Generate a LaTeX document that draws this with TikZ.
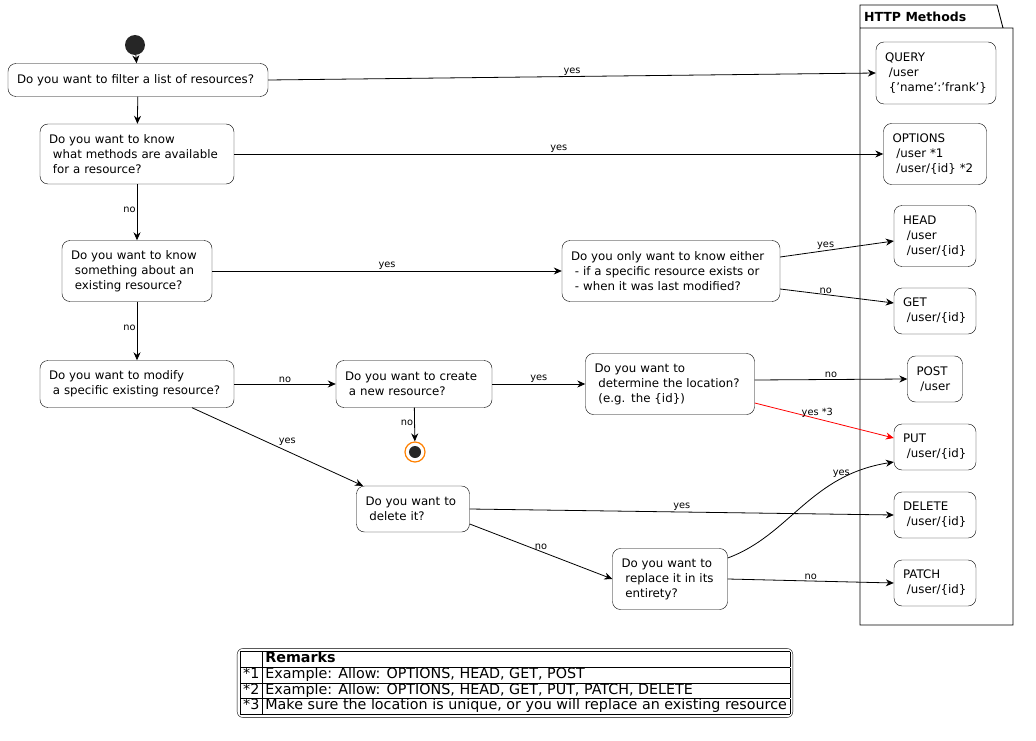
\documentclass[tikz,border=0pt]{standalone}
\usepackage{fontspec}
\setmainfont{DejaVu Sans}
\usetikzlibrary{arrows.meta}
\begin{document}
\begin{tikzpicture}[x=1pt,y=-1pt,
 box/.style={draw,rounded corners=8pt,font=\fontsize{11.8}{15}\selectfont,align=left,inner xsep=9pt,inner ysep=0pt},
 arr/.style={-{Stealth[length=8pt,width=7pt]},line width=0.8pt},
 lab/.style={font=\fontsize{9.8}{11}\selectfont,inner sep=1pt}]
\useasboundingbox (0,0) rectangle (1036,741);
\newcommand{\bx}[5]{\node[box,minimum width=#3pt,minimum height=#4pt,text width=#3pt-18pt] (#1) at (#2) {#5};}
\newcommand{\sq}{{\char"0027}}
\node[circle,fill=black!85,minimum size=20pt,inner sep=0pt] (s) at (135,45) {};
\bx{q1}{138,80}{260}{33}{Do you want to filter a list of resources?}
\bx{q2}{137,154}{194}{60}{Do you want to know\\\ what methods are available\\\ for a resource?}
\bx{q3}{137,271}{150}{61}{Do you want to know\\\ something about an\\\ existing resource?}
\bx{q4}{137,384}{194}{47}{Do you want to modify\\\ a specific existing resource?}
\bx{q5}{414,384}{156}{47}{Do you want to create\\\ a new resource?}
\node[circle,draw=orange,line width=1.2pt,minimum size=20pt,inner sep=0pt] (e) at (415,452) {};
\fill[black!85] (e) circle (6pt);
\bx{q6}{671,271}{218}{61}{Do you only want to know either\\\ - if a specific resource exists or\\\ - when it was last modified?}
\bx{q7}{670,384}{169}{61}{Do you want to\\\ determine the location?\\\ (e.g. the \{id\})}
\bx{q8}{413,509}{113}{46}{Do you want to\\\ delete it?}
\bx{q9}{670,579}{115}{61}{Do you want to\\\ replace it in its\\\ entirety?}
% package
\draw[line width=0.9pt] (860,28) -- (860,625) -- (1013,625) -- (1013,28) -- (1003,28) -- (997,5) -- (860,5) -- (860,28) -- (1003,28);
\node[font=\bfseries\fontsize{12.5}{14}\selectfont,anchor=west,inner sep=0pt] (pk) at (864,17) {HTTP Methods};
\bx{m1}{936,73}{120}{62}{QUERY\\\ /user\\\ \{\sq name\sq:\sq frank\sq\}}
\bx{m2}{935,154}{103}{61}{OPTIONS\\\ /user *1\\\ /user/\{id\} *2}
\bx{m3}{935,236}{82}{61}{HEAD\\\ /user\\\ /user/\{id\}}
\bx{m4}{935,311}{82}{46}{GET\\\ /user/\{id\}}
\bx{m5}{935,379}{55}{46}{POST\\\ /user}
\bx{m6}{935,447}{82}{46}{PUT\\\ /user/\{id\}}
\bx{m7}{935,515}{82}{46}{DELETE\\\ /user/\{id\}}
\bx{m8}{935,583}{82}{46}{PATCH\\\ /user/\{id\}}
% edges
\draw[arr] (s) -- (q1);
\draw[arr] (q1) -- (q2);
\draw[arr] (q2) -- node[lab,left,pos=0.45]{no} (q3);
\draw[arr] (q3) -- node[lab,left,pos=0.45]{no} (q4);
\draw[arr] (q1.east) -- node[lab,above]{yes} (m1.west);
\draw[arr] (q2.east) -- node[lab,above]{yes} (m2.west);
\draw[arr] (q3.east) -- node[lab,above]{yes} (q6.west);
\draw[arr] ([yshift=14pt]q6.east) -- node[lab,above,pos=0.4]{yes} ([yshift=-5pt]m3.west);
\draw[arr] ([yshift=-18pt]q6.east) -- node[lab,above,pos=0.4]{no} ([yshift=8pt]m4.west);
\draw[arr] (q4.east) -- node[lab,above]{no} (q5.west);
\draw[arr] (q5.east) -- node[lab,above]{yes} (q7.west);
\draw[arr] (q5) -- node[lab,left,pos=0.45]{no} (e);
\draw[arr] ([yshift=4pt]q7.east) -- node[lab,above]{no} (m5.west);
\draw[arr,red] ([yshift=-19pt]q7.east) -- node[lab,above,black,pos=0.45]{yes *3} ([yshift=9pt]m6.west);
\draw[arr] ([xshift=55pt]q4.south) -- node[lab,above right]{yes} ([xshift=-50pt]q8.north);
\draw[arr] (q8.east) -- node[lab,above]{yes} (m7.west);
\draw[arr] ([yshift=-15pt]q8.east) -- node[lab,above]{no} (q9.west);
\draw[arr] ([yshift=21pt]q9.east) .. controls (790,535) and (810,475) .. node[lab,above,pos=0.75]{yes} ([yshift=-15pt]m6.west);
\draw[arr] (q9.east) -- node[lab,above]{no} (m8.west);
% legend
\node[draw,rounded corners=6pt,inner sep=3pt,font=\fontsize{14.3}{16}\selectfont] (leg) at (515,683) {%
\renewcommand{\arraystretch}{0.92}\setlength{\tabcolsep}{3pt}%
\begin{tabular}{|l|l|}\hline
 & \textbf{Remarks}\\\hline
*1 & Example: Allow: OPTIONS, HEAD, GET, POST\\\hline
*2 & Example: Allow: OPTIONS, HEAD, GET, PUT, PATCH, DELETE\\\hline
*3 & Make sure the location is unique, or you will replace an existing resource\\\hline
\end{tabular}};
\end{tikzpicture}
\end{document}
